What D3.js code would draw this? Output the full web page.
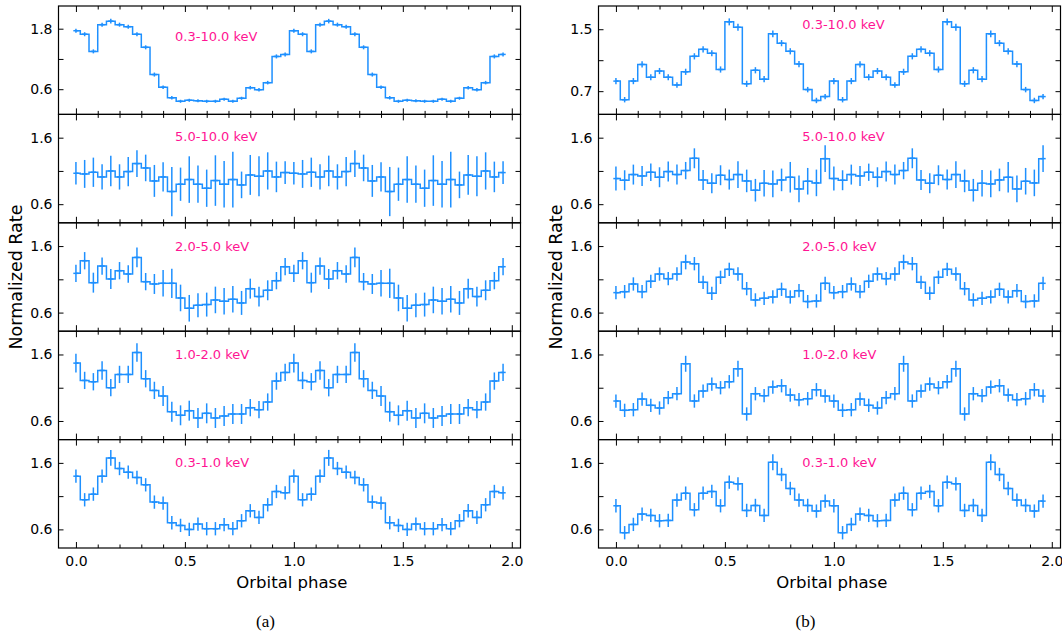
<!DOCTYPE html>
<html>
<head>
<meta charset="utf-8">
<script src="https://cdn.jsdelivr.net/npm/d3@7"></script>
<style>
body { margin: 0; background: #fff; }
text { font-family: "DejaVu Sans", sans-serif; }
</style>
</head>
<body>
<script>
var w = 1062;
var h = 639;

// one orbital cycle, 25 bins; the figure shows it twice
var phase = [0.00, 0.04, 0.08, 0.12, 0.16, 0.20, 0.24, 0.28, 0.32, 0.36, 0.40, 0.44, 0.48,
    0.52, 0.56, 0.60, 0.64, 0.68, 0.72, 0.76, 0.80, 0.84, 0.88, 0.92, 0.96];

var bands = ["0.3-10.0 keV", "5.0-10.0 keV", "2.0-5.0 keV", "1.0-2.0 keV", "0.3-1.0 keV"];

// (a) left column
var rateA1 = [1.76, 1.69, 1.35, 1.88, 1.95, 1.88, 1.84, 1.69, 1.43, 0.89, 0.64, 0.43, 0.36,
    0.38, 0.37, 0.36, 0.36, 0.40, 0.36, 0.42, 0.63, 0.59, 0.73, 1.25, 1.29];
var errA1 = [0.04, 0.04, 0.04, 0.04, 0.045, 0.04, 0.04, 0.04, 0.04, 0.04, 0.035, 0.035, 0.03,
    0.03, 0.03, 0.03, 0.03, 0.03, 0.03, 0.03, 0.035, 0.035, 0.035, 0.04, 0.04];
var rateA2 = [1.065, 1.055, 1.08, 1.01, 1.10, 1.01, 1.09, 1.21, 1.145, 0.95, 1.01, 0.79, 0.90,
    0.97, 0.90, 0.84, 0.955, 0.90, 0.97, 0.89, 1.04, 1.02, 1.10, 1.01, 1.075];
var errA2 = [0.17, 0.21, 0.22, 0.19, 0.23, 0.19, 0.22, 0.20, 0.20, 0.24, 0.22, 0.37, 0.25,
    0.35, 0.28, 0.28, 0.38, 0.35, 0.42, 0.20, 0.30, 0.30, 0.28, 0.23, 0.17];
var rateA3 = [1.19, 1.38, 1.05, 1.30, 1.105, 1.23, 1.18, 1.43, 1.065, 1.03, 1.04, 1.04, 0.82,
    0.665, 0.71, 0.72, 0.79, 0.77, 0.80, 0.745, 0.96, 0.84, 0.935, 1.08, 1.29];
var errA3 = [0.13, 0.13, 0.15, 0.13, 0.15, 0.13, 0.13, 0.15, 0.13, 0.15, 0.2, 0.22, 0.2,
    0.2, 0.18, 0.18, 0.2, 0.2, 0.2, 0.18, 0.15, 0.15, 0.15, 0.13, 0.13];
var rateA4 = [1.47, 1.21, 1.19, 1.36, 1.10, 1.30, 1.30, 1.63, 1.235, 1.06, 0.975, 0.74, 0.685,
    0.755, 0.645, 0.715, 0.645, 0.675, 0.705, 0.705, 0.80, 0.77, 0.885, 1.20, 1.33];
var errA4 = [0.14, 0.13, 0.13, 0.14, 0.13, 0.13, 0.13, 0.14, 0.13, 0.13, 0.15, 0.15, 0.15,
    0.15, 0.15, 0.15, 0.15, 0.15, 0.15, 0.15, 0.13, 0.13, 0.13, 0.13, 0.13];
var rateA5 = [1.40, 1.045, 1.13, 1.40, 1.675, 1.515, 1.46, 1.38, 1.27, 1.01, 0.995, 0.70, 0.66,
    0.60, 0.68, 0.61, 0.61, 0.67, 0.61, 0.73, 0.88, 0.78, 0.97, 1.17, 1.15];
var errA5 = [0.1, 0.1, 0.1, 0.1, 0.12, 0.1, 0.1, 0.1, 0.1, 0.1, 0.1, 0.1, 0.1,
    0.1, 0.1, 0.1, 0.1, 0.1, 0.1, 0.1, 0.1, 0.1, 0.1, 0.1, 0.1];

// (b) right column
var rateB1 = [0.83, 0.59, 0.83, 1.045, 0.88, 0.96, 0.88, 0.78, 0.95, 1.15, 1.24, 1.19, 0.98,
    1.595, 1.525, 0.795, 0.97, 0.855, 1.44, 1.32, 1.215, 1.05, 0.72, 0.58, 0.63];
var errB1 = [0.04, 0.035, 0.04, 0.04, 0.04, 0.04, 0.04, 0.035, 0.04, 0.04, 0.04, 0.04, 0.04,
    0.045, 0.045, 0.04, 0.04, 0.04, 0.045, 0.04, 0.04, 0.04, 0.035, 0.035, 0.035];
var rateB2 = [0.985, 0.96, 1.045, 1.025, 1.08, 1.005, 1.09, 1.045, 1.105, 1.29, 0.965, 0.915, 1.035,
    0.97, 1.045, 0.95, 0.81, 0.915, 0.905, 0.965, 1.005, 0.83, 0.945, 0.92, 1.285];
var errB2 = [0.18, 0.15, 0.15, 0.15, 0.13, 0.15, 0.15, 0.15, 0.13, 0.15, 0.15, 0.15, 0.15,
    0.15, 0.2, 0.17, 0.17, 0.2, 0.2, 0.17, 0.23, 0.2, 0.2, 0.2, 0.2];
var rateB3 = [0.90, 0.915, 1.03, 0.915, 1.07, 1.18, 1.11, 1.18, 1.36, 1.335, 1.055, 0.89, 1.13,
    1.25, 1.18, 0.96, 0.79, 0.815, 0.835, 0.95, 0.835, 0.93, 0.765, 0.775, 1.04];
var errB3 = [0.1, 0.1, 0.1, 0.1, 0.1, 0.1, 0.1, 0.1, 0.11, 0.1, 0.1, 0.1, 0.1,
    0.1, 0.1, 0.1, 0.1, 0.1, 0.1, 0.1, 0.1, 0.1, 0.1, 0.1, 0.1];
var rateB4 = [0.90, 0.76, 0.77, 0.93, 0.835, 0.795, 0.95, 1.01, 1.46, 0.90, 1.05, 1.155, 1.10,
    1.19, 1.385, 0.705, 1.01, 0.98, 1.11, 1.13, 0.99, 0.92, 0.935, 1.07, 0.975];
var errB4 = [0.1, 0.1, 0.1, 0.1, 0.1, 0.1, 0.1, 0.1, 0.12, 0.1, 0.1, 0.1, 0.1,
    0.1, 0.12, 0.1, 0.1, 0.1, 0.1, 0.1, 0.1, 0.1, 0.1, 0.1, 0.1];
var rateB5 = [0.955, 0.55, 0.675, 0.83, 0.81, 0.73, 0.735, 1.04, 1.145, 0.895, 1.145, 1.17, 0.955,
    1.31, 1.285, 0.885, 0.96, 0.81, 1.61, 1.425, 1.215, 1.04, 0.96, 0.875, 1.025];
var errB5 = [0.1, 0.1, 0.1, 0.1, 0.1, 0.1, 0.1, 0.1, 0.1, 0.1, 0.1, 0.1, 0.1,
    0.1, 0.1, 0.1, 0.1, 0.1, 0.12, 0.1, 0.1, 0.1, 0.1, 0.1, 0.1];

var ratesA = [rateA1, rateA2, rateA3, rateA4, rateA5];
var errsA = [errA1, errA2, errA3, errA4, errA5];
var ratesB = [rateB1, rateB2, rateB3, rateB4, rateB5];
var errsB = [errB1, errB2, errB3, errB4, errB5];

// y tick values per panel (middle one is unlabeled)
var yTicksA = [[0.6, 1.2, 1.8], [0.6, 1.1, 1.6], [0.6, 1.1, 1.6], [0.6, 1.1, 1.6], [0.6, 1.1, 1.6]];
var yTicksB = [[0.7, 1.1, 1.5], [0.6, 1.1, 1.6], [0.6, 1.1, 1.6], [0.6, 1.1, 1.6], [0.6, 1.1, 1.6]];
var xMajor = [0, 0.5, 1.0, 1.5, 2.0];
var xMinor = [0.1, 0.2, 0.3, 0.4, 0.6, 0.7, 0.8, 0.9, 1.1, 1.2, 1.3, 1.4, 1.6, 1.7, 1.8, 1.9];

var blue = "#1e90ff";
var pink = "#ff1493";

var panelTop = 6;
var panelH = 108.4;

var columns = [
    {left: 58.5, right: 520.5, rates: ratesA, errs: errsA, ticks: yTicksA,
        domains: [[0.1, 2.25], [0.32, 1.95], [0.32, 1.95], [0.32, 1.95], [0.32, 1.95]],
        labelX: 0.455, labelY: [1.64, 1.62, 1.6, 1.6, 1.6], tag: "(a)"},
    {left: 598.5, right: 1060.5, rates: ratesB, errs: errsB, ticks: yTicksB,
        domains: [[0.4, 1.8], [0.32, 1.95], [0.32, 1.95], [0.32, 1.95], [0.32, 1.95]],
        labelX: 0.855, labelY: [1.56, 1.62, 1.6, 1.6, 1.6], tag: "(b)"}
];

var svg = d3.select("body")
    .append("svg")
    .attr("width", w)
    .attr("height", h);

var xerr = 0.012;

columns.forEach(function (col) {
    var xScale = d3.scaleLinear()
        .domain([-0.08, 2.04])
        .range([col.left, col.right]);

    col.rates.forEach(function (rate, p) {
        var top = panelTop + p * panelH;
        var bottom = top + panelH;
        var yScale = d3.scaleLinear()
            .domain(col.domains[p])
            .range([bottom, top]);

        // two cycles of the folded light curve
        var pts = [];
        [0, 1].forEach(function (cyc) {
            phase.forEach(function (ph, i) {
                pts.push({x: ph + cyc, y: rate[i], e: col.errs[p][i]});
            });
        });

        var g = svg.append("g");

        var line = d3.line()
            .x(function (d) { return xScale(d.x); })
            .y(function (d) { return yScale(d.y); })
            .curve(d3.curveStep);

        g.append("path")
            .datum(pts)
            .attr("d", line)
            .attr("fill", "none")
            .attr("stroke", blue)
            .attr("stroke-width", 1.5);

        g.selectAll("line.ey")
            .data(pts)
            .enter()
            .append("line")
            .attr("class", "ey")
            .attr("x1", function (d) { return xScale(d.x); })
            .attr("x2", function (d) { return xScale(d.x); })
            .attr("y1", function (d) { return yScale(d.y - d.e); })
            .attr("y2", function (d) { return yScale(d.y + d.e); })
            .attr("stroke", blue)
            .attr("stroke-width", 1.5);

        g.selectAll("line.ex")
            .data(pts)
            .enter()
            .append("line")
            .attr("class", "ex")
            .attr("x1", function (d) { return xScale(d.x - xerr); })
            .attr("x2", function (d) { return xScale(d.x + xerr); })
            .attr("y1", function (d) { return yScale(d.y); })
            .attr("y2", function (d) { return yScale(d.y); })
            .attr("stroke", blue)
            .attr("stroke-width", 1.5);

        // y axes, ticks pointing inward
        var tv = col.ticks[p];
        var fmt = function (d, i) { return i === 1 ? "" : d3.format(".1f")(d); };
        var yl = g.append("g")
            .attr("transform", "translate(" + col.left + ",0)")
            .call(d3.axisLeft(yScale).tickValues(tv).tickFormat(fmt)
                .tickSizeInner(-5).tickSizeOuter(0).tickPadding(6));
        var yr = g.append("g")
            .attr("transform", "translate(" + col.right + ",0)")
            .call(d3.axisRight(yScale).tickValues(tv).tickFormat("")
                .tickSizeInner(-5).tickSizeOuter(0));

        // x ticks on top and bottom of every panel
        var xb = g.append("g")
            .attr("transform", "translate(0," + bottom + ")")
            .call(d3.axisBottom(xScale).tickValues(xMajor)
                .tickFormat(p === 4 ? d3.format(".1f") : "")
                .tickSizeInner(-6).tickSizeOuter(0).tickPadding(8));
        var xbm = g.append("g")
            .attr("transform", "translate(0," + bottom + ")")
            .call(d3.axisBottom(xScale).tickValues(xMinor).tickFormat("")
                .tickSizeInner(-3.5).tickSizeOuter(0));
        var xt = g.append("g")
            .attr("transform", "translate(0," + top + ")")
            .call(d3.axisTop(xScale).tickValues(xMajor).tickFormat("")
                .tickSizeInner(-6).tickSizeOuter(0));
        var xtm = g.append("g")
            .attr("transform", "translate(0," + top + ")")
            .call(d3.axisTop(xScale).tickValues(xMinor).tickFormat("")
                .tickSizeInner(-3.5).tickSizeOuter(0));

        [yl, yr, xb, xbm, xt, xtm].forEach(function (a) {
            a.select(".domain").remove();
            a.selectAll("line").attr("stroke", "#000").attr("stroke-width", 1);
            a.selectAll("text")
                .style("font-family", "DejaVu Sans")
                .style("font-size", "14px")
                .attr("fill", "#000");
        });

        g.append("rect")
            .attr("x", col.left)
            .attr("y", top)
            .attr("width", col.right - col.left)
            .attr("height", panelH)
            .attr("fill", "none")
            .attr("stroke", "#000")
            .attr("stroke-width", 1.2);

        g.append("text")
            .attr("x", xScale(col.labelX))
            .attr("y", yScale(col.labelY[p]))
            .attr("dy", "0.35em")
            .style("font-size", "13px")
            .attr("fill", pink)
            .text(bands[p]);
    });

    var mid = (col.left + col.right) / 2;
    var yMid = panelTop + panelH * 2.5;

    svg.append("text")
        .attr("transform", "translate(" + (col.left - 37) + "," + yMid + ") rotate(-90)")
        .attr("text-anchor", "middle")
        .style("font-size", "17.5px")
        .text("Normalized Rate");

    svg.append("text")
        .attr("x", xScale(1.0) - 2)
        .attr("y", 588)
        .attr("text-anchor", "middle")
        .style("font-size", "16.5px")
        .text("Orbital phase");

    svg.append("text")
        .attr("x", mid - 24)
        .attr("y", 627)
        .attr("text-anchor", "middle")
        .style("font-family", "Liberation Serif")
        .style("font-size", "17px")
        .text(col.tag);
});
</script>
</body>
</html>
